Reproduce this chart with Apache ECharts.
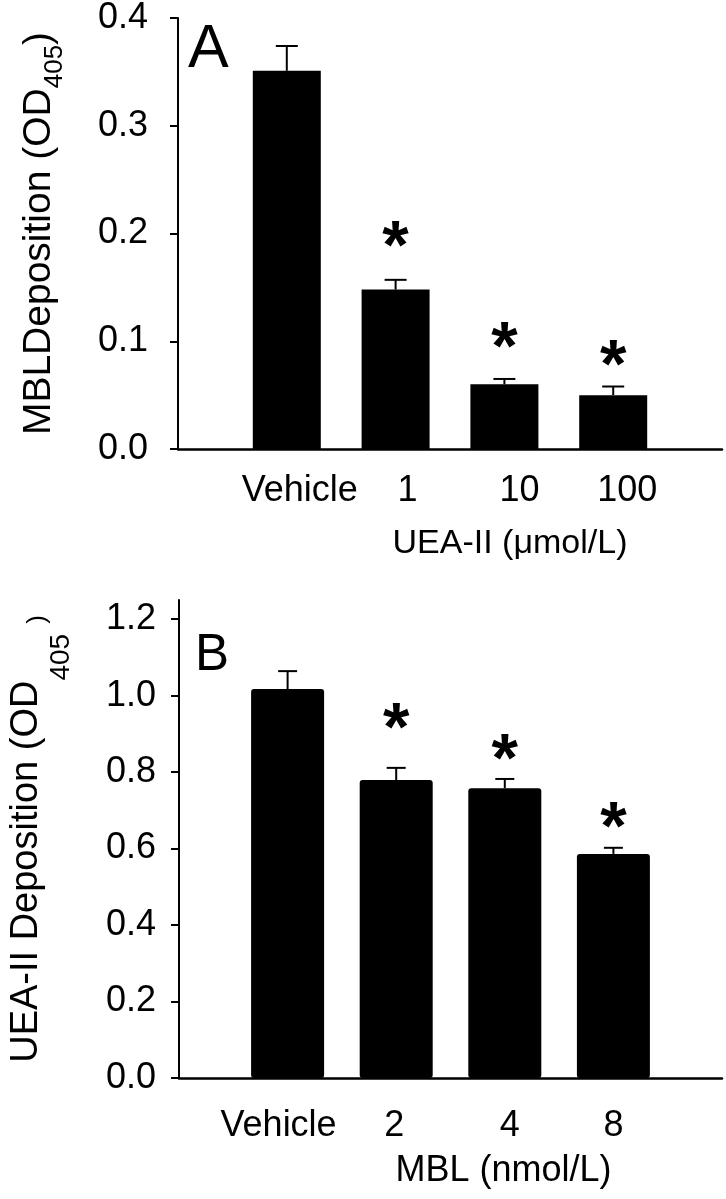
<!DOCTYPE html>
<html>
<head>
<meta charset="utf-8">
<script src="https://cdn.jsdelivr.net/npm/echarts@6/dist/echarts.min.js"></script>
<style>
html,body{margin:0;padding:0;background:#fff;}
#chart{width:726px;height:1199px;}
</style>
</head>
<body>
<div id="chart"></div>
<script>
// ---------- Panel A data ----------
const catsA = ['Vehicle', '1', '10', '100'];
const meanA = [0.351, 0.148, 0.060, 0.050];
const errA  = [0.023, 0.009, 0.005, 0.008];
const starA = [null, 0.198, 0.105, 0.088];
const ticksA = [0, 0.1, 0.2, 0.3, 0.4];

// ---------- Panel B data ----------
const catsB = ['Vehicle', '2', '4', '8'];
const meanB = [1.017, 0.779, 0.758, 0.586];
const errB  = [0.047, 0.032, 0.024, 0.016];
const starB = [null, 0.944, 0.863, 0.685];
const ticksB = [0, 0.2, 0.4, 0.6, 0.8, 1.0, 1.2];

const FONT = '"Liberation Sans", Arial, Helvetica, sans-serif';
const pos = [1, 2, 3, 4];

// label fine shifts (style only)
const shiftA = [13, 12, 15, 14];
const shiftB = [-9, -2, 5, 0];

function richFor(shifts, size) {
  const r = {};
  shifts.forEach((s, i) => {
    r['s' + i] = {
      fontSize: size, fontFamily: FONT, color: '#000',
      padding: s >= 0 ? [0, 0, 0, 2 * s] : [0, -2 * s, 0, 0]
    };
  });
  return r;
}

function errRender(capW) {
  return function (params, api) {
    const x = api.value(0), m = api.value(1), e = api.value(2);
    const p0 = api.coord([x, m]);
    const p1 = api.coord([x, m + e]);
    const hw = capW / 2;
    return {
      type: 'group',
      children: [
        { type: 'line', shape: { x1: p0[0], y1: p0[1], x2: p1[0], y2: p1[1] }, style: { stroke: '#000', lineWidth: 2 } },
        { type: 'line', shape: { x1: p1[0] - hw, y1: p1[1], x2: p1[0] + hw, y2: p1[1] }, style: { stroke: '#000', lineWidth: 2 } }
      ]
    };
  };
}

function xAxisCfg(idx, cats, shifts, margin, name, nameShift, nameGap, nameSize) {
  return {
    gridIndex: idx, type: 'value', min: 0, max: 5, interval: 1,
    axisLine: { show: true, onZero: false, lineStyle: { color: '#000', width: 2.5 } },
    axisTick: { show: false },
    splitLine: { show: false },
    axisLabel: {
      margin: margin,
      formatter: v => (v >= 1 && v <= 4) ? '{s' + (v - 1) + '|' + cats[v - 1] + '}' : '',
      rich: richFor(shifts, 36),
      showMinLabel: false, showMaxLabel: false
    },
    name: name, nameLocation: 'middle', nameGap: nameGap,
    nameTextStyle: { fontSize: nameSize, fontFamily: FONT, color: '#000', padding: [0, 0, 0, 2 * nameShift] }
  };
}

const starLabel = { show: true, position: 'inside', formatter: '*', fontSize: 68, fontWeight: 'bold', fontFamily: FONT, color: '#000', opacity: 1, offset: [0, 14] };

const chart = echarts.init(document.getElementById('chart'), null, { renderer: 'canvas' });

const option = {
  animation: false,
  backgroundColor: '#fff',
  textStyle: { fontFamily: FONT },
  grid: [
    { left: 178, right: 4, top: 16, height: 433 },
    { left: 178, right: 4, top: 600, height: 478 }
  ],
  xAxis: [
    xAxisCfg(0, catsA, shiftA, 24, 'UEA-II (\u03bcmol/L)', 60, 78, 34),
    xAxisCfg(1, catsB, shiftB, 30, 'MBL (nmol/L)', 53, 75, 36)
  ],
  yAxis: [
    {
      gridIndex: 0, type: 'value', min: 0, max: 0.4, interval: 0.1,
      axisLine: { show: true, onZero: false, lineStyle: { color: '#000', width: 2 } },
      axisTick: { show: true, length: 8, lineStyle: { color: '#000', width: 2 } },
      splitLine: { show: false },
      axisLabel: {
        margin: 30, fontSize: 36, fontFamily: FONT, color: '#000',
        formatter: v => ticksA.some(t => Math.abs(t - v) < 1e-9) ? v.toFixed(1) : ''
      },
      name: '{a|MBLDeposition (OD}{s|405}{a|)}',
      nameLocation: 'middle', nameGap: 112, nameRotate: 90,
      nameTextStyle: {
        rich: {
          a: { fontSize: 39, lineHeight: 46, fontFamily: FONT, color: '#000', verticalAlign: 'top' },
          s: { fontSize: 26, lineHeight: 26, fontFamily: FONT, color: '#000', verticalAlign: 'top', padding: [22, 0, 0, 0] }
        }
      }
    },
    {
      gridIndex: 1, type: 'value', min: 0, max: 1.25,
      axisLine: { show: true, onZero: false, lineStyle: { color: '#000', width: 2 } },
      axisTick: { show: true, length: 8, customValues: ticksB, lineStyle: { color: '#000', width: 2 } },
      splitLine: { show: false },
      axisLabel: {
        margin: 23, fontSize: 36, fontFamily: FONT, color: '#000',
        customValues: ticksB,
        formatter: v => ticksB.some(t => Math.abs(t - v) < 1e-9) ? v.toFixed(1) : ''
      },
      name: '{a|UEA-II Deposition (OD}{b|405}{c|)}',
      nameLocation: 'middle', nameGap: 125, nameRotate: 90,
      nameTextStyle: {
        rich: {
          a: { fontSize: 38, lineHeight: 46, fontFamily: FONT, color: '#000', verticalAlign: 'top' },
          b: { fontSize: 28, lineHeight: 28, fontFamily: FONT, color: '#000', verticalAlign: 'top', padding: [39, 0, 0, 0] },
          c: { fontSize: 26, lineHeight: 26, fontFamily: FONT, color: '#000', verticalAlign: 'top', padding: [17, 0, 0, 10] }
        }
      }
    }
  ],
  graphic: [
    { type: 'text', x: 188, y: 50, silent: true,
      style: { text: 'A', fontSize: 61, fontFamily: FONT, fill: '#000', align: 'left', verticalAlign: 'middle' } },
    { type: 'text', x: 195, y: 656, silent: true,
      style: { text: 'B', fontSize: 51, fontFamily: FONT, fill: '#000', align: 'left', verticalAlign: 'middle' } }
  ],
  series: [
    {
      type: 'bar', xAxisIndex: 0, yAxisIndex: 0, barWidth: 68, silent: true,
      itemStyle: { color: '#000' },
      data: pos.map((x, i) => [x, meanA[i]])
    },
    {
      type: 'custom', xAxisIndex: 0, yAxisIndex: 0, silent: true, z: 3,
      renderItem: errRender(22),
      encode: { x: 0, y: 1 },
      data: pos.map((x, i) => [x, meanA[i], errA[i]])
    },
    {
      type: 'scatter', xAxisIndex: 0, yAxisIndex: 0, silent: true, symbolSize: 1,
      itemStyle: { color: 'rgba(0,0,0,0)', opacity: 1 },
      label: starLabel,
      data: pos.map((x, i) => [x, starA[i]]).filter(d => d[1] != null)
    },
    {
      type: 'bar', xAxisIndex: 1, yAxisIndex: 1, barWidth: 73, silent: true,
      itemStyle: { color: '#000', borderRadius: 3 },
      data: pos.map((x, i) => [x, meanB[i]])
    },
    {
      type: 'custom', xAxisIndex: 1, yAxisIndex: 1, silent: true, z: 3,
      renderItem: errRender(19),
      encode: { x: 0, y: 1 },
      data: pos.map((x, i) => [x, meanB[i], errB[i]])
    },
    {
      type: 'scatter', xAxisIndex: 1, yAxisIndex: 1, silent: true, symbolSize: 1,
      itemStyle: { color: 'rgba(0,0,0,0)', opacity: 1 },
      label: starLabel,
      data: pos.map((x, i) => [x, starB[i]]).filter(d => d[1] != null)
    }
  ]
};
chart.setOption(option);
</script>
</body>
</html>
